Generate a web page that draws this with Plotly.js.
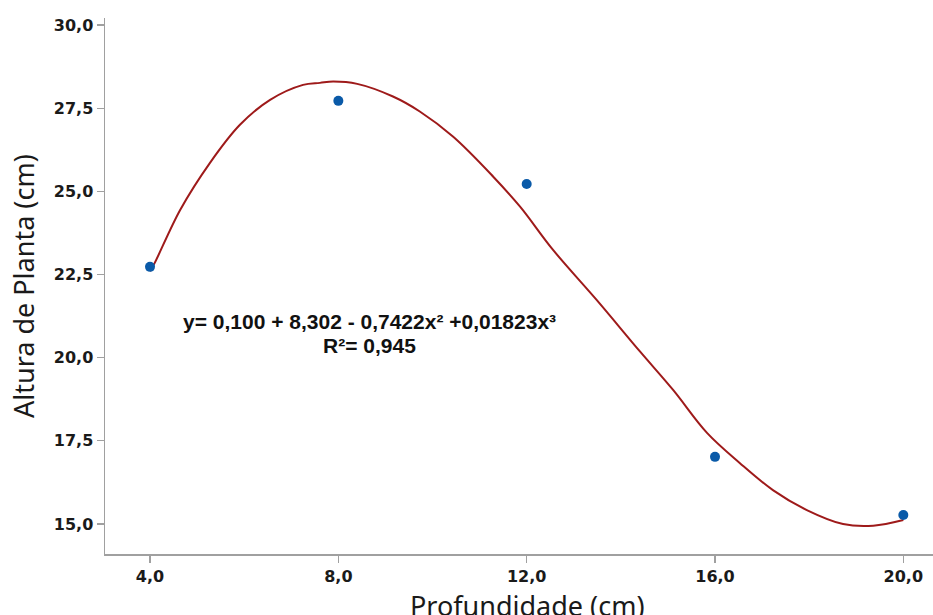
<!DOCTYPE html>
<html><head><meta charset="utf-8">
<script src="https://cdn.plot.ly/plotly-3.0.1.min.js"></script>
<style>html,body{margin:0;padding:0;background:#fff}#chart{width:933px;height:615px}</style>
</head><body><div id="chart"></div>
<script>
// observed means
const depth = [4, 8, 12, 16, 20];
const height = [22.73, 27.72, 25.22, 17.02, 15.27];
// fitted curve
const curveX = [4.0, 4.1, 4.64, 5.27, 5.91, 6.55, 7.25, 7.61, 7.89, 8.40, 9.16, 9.73, 10.44, 11.29, 11.86, 12.56, 13.49, 14.41, 15.11, 15.83, 16.53, 17.23, 17.95, 18.72, 19.36, 20.0];
const curveY = [22.6, 22.85, 24.44, 25.85, 27.0, 27.75, 28.2, 28.26, 28.30, 28.23, 27.85, 27.4, 26.64, 25.44, 24.54, 23.24, 21.73, 20.18, 19.03, 17.74, 16.83, 16.02, 15.42, 15.0, 14.95, 15.12];
const xTicks = [4, 8, 12, 16, 20];
const yTicks = [15, 17.5, 20, 22.5, 25, 27.5, 30];
const eqText = "y= 0,100 + 8,302 - 0,7422x² +0,01823x³";
const r2Text = "R²= 0,945";
const xTitle = "Profundidade (cm)";
const yTitle = "Altura de Planta (cm)";

const traces = [
  {x: curveX, y: curveY, mode: 'lines', line: {color: '#9e1a1a', width: 2, shape: 'spline'}, hoverinfo: 'skip'},
  {x: depth, y: height, mode: 'markers', marker: {color: '#0a5aa8', size: 10}}
];
const tickFont = {family: 'DejaVu Sans, sans-serif', size: 16, color: '#1a1a1a', weight: 'bold'};
const titleFont = {family: 'Noto Sans, Open Sans, sans-serif', size: 27, color: '#1a1a1a'};
const annFont = {family: 'Liberation Sans, Arial, sans-serif', size: 21, color: '#111', weight: 'bold'};
const layout = {
  width: 933, height: 615,
  margin: {l: 105, r: 0, t: 18, b: 61},
  paper_bgcolor: '#fff', plot_bgcolor: '#fff',
  showlegend: false,
  separators: ',.',
  xaxis: {
    range: [3.044, 20.63], tickvals: xTicks, tickformat: '.1f',
    showgrid: false, zeroline: false, showline: true, linecolor: '#a0a0a0', linewidth: 1.5,
    ticks: 'outside', ticklen: 7, tickcolor: '#a0a0a0', tickwidth: 1.2,
    tickfont: tickFont
  },
  yaxis: {
    range: [14.1, 30.21], tickvals: yTicks, tickformat: '.1f',
    showgrid: false, zeroline: false, showline: true, linecolor: '#a0a0a0', linewidth: 1.5,
    ticks: 'outside', ticklen: 7, tickcolor: '#a0a0a0', tickwidth: 1.2,
    tickfont: tickFont
  },
  annotations: [
    {x: 8.67, y: 21.08, xref: 'x', yref: 'y', text: eqText, showarrow: false, font: annFont},
    {x: 8.67, y: 20.38, xref: 'x', yref: 'y', text: r2Text, showarrow: false, font: annFont},
    {x: 0.5097, y: 0, xref: 'paper', yref: 'paper', yanchor: 'top', yshift: -31, text: xTitle, showarrow: false, font: titleFont},
    {x: 0, y: 0.5, xref: 'paper', yref: 'paper', xanchor: 'center', xshift: -82, yshift: 0, textangle: -90, text: yTitle, showarrow: false, font: titleFont}
  ]
};
Plotly.newPlot('chart', traces, layout, {displayModeBar: false, staticPlot: true});
</script></body></html>
